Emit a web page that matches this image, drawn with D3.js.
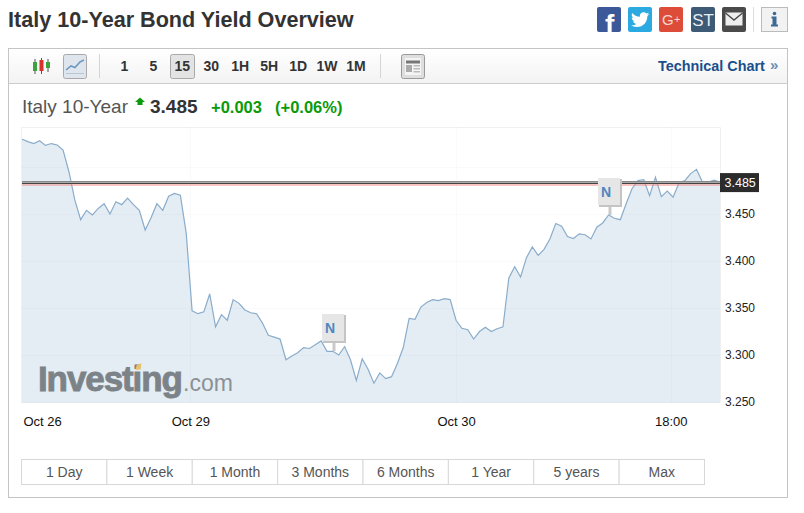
<!DOCTYPE html>
<meta charset="utf-8">
<title>Italy 10-Year Bond Yield Overview</title>
<style>
    body { margin: 0; background: #fff; }
    svg { display: block; }
    text { font-family: "Liberation Sans", Arial, sans-serif; }
</style>
<body>
<script src="https://d3js.org/d3.v7.min.js"></script>
<div id="chart"></div>
<script>
    // yield, one value per bar
    var yields = [
        3.5305, 3.528, 3.526, 3.529, 3.524, 3.526, 3.5245, 3.519, 3.496, 3.466,
        3.445, 3.455, 3.450, 3.457, 3.462, 3.451, 3.464, 3.461, 3.468, 3.461,
        3.455, 3.434, 3.447, 3.462, 3.455, 3.470, 3.473, 3.471, 3.4305, 3.348,
        3.345, 3.347, 3.366, 3.331, 3.344, 3.338, 3.360, 3.356, 3.349, 3.346,
        3.345, 3.335, 3.322, 3.320, 3.318, 3.296, 3.300, 3.3035, 3.309, 3.308,
        3.312, 3.316, 3.305, 3.305, 3.301, 3.310, 3.296, 3.274, 3.297, 3.286,
        3.271, 3.282, 3.276, 3.278, 3.292, 3.309, 3.340, 3.339, 3.352, 3.357,
        3.360, 3.359, 3.361, 3.360, 3.338, 3.3295, 3.328, 3.318, 3.326, 3.3305,
        3.326, 3.329, 3.331, 3.383, 3.395, 3.384, 3.4046, 3.416, 3.407, 3.4135,
        3.4245, 3.441, 3.438, 3.427, 3.425, 3.430, 3.429, 3.4245, 3.437, 3.4415,
        3.450, 3.4465, 3.445, 3.462, 3.478, 3.4865, 3.4875, 3.4705, 3.490, 3.4695,
        3.4755, 3.469, 3.484, 3.4865, 3.494, 3.4986, 3.485, 3.485, 3.487, 3.485
    ];
    var yTicks = [3.25, 3.3, 3.35, 3.4, 3.45];
    var gridTicks = [3.25, 3.3, 3.35, 3.4, 3.45, 3.5];
    var xTickBars = [0, 28.7, 74, 110.6];
    var xTickLabels = ["Oct 26", "Oct 29", "Oct 30", "18:00"];
    var newsBars = [53, 100];
    var lastPrice = 3.485;

    var intervals = ["1", "5", "15", "30", "1H", "5H", "1D", "1W", "1M"];
    var ranges = ["1 Day", "1 Week", "1 Month", "3 Months", "6 Months", "1 Year", "5 years", "Max"];

    var width = 804, height = 513;
    var svg = d3.select("#chart").append("svg")
        .attr("width", width)
        .attr("height", height);

    var defs = svg.append("defs");
    var grad = defs.append("linearGradient").attr("id", "bar").attr("x2", 0).attr("y2", 1);
    grad.append("stop").attr("offset", 0).attr("stop-color", "#ffffff");
    grad.append("stop").attr("offset", 1).attr("stop-color", "#f3f3f3");
    var blur = defs.append("filter").attr("id", "soft").attr("x", "-10%").attr("y", "-10%").attr("width", "120%").attr("height", "120%");
    blur.append("feGaussianBlur").attr("stdDeviation", 0.35);

    function label(g, x, y, str, size, color, weight, anchor) {
        return g.append("text")
            .attr("x", x).attr("y", y)
            .attr("font-size", size + "px")
            .attr("fill", color)
            .attr("font-weight", weight || "normal")
            .attr("text-anchor", anchor || "start")
            .text(str);
    }

    function box(g, x, y, w, h, fill, stroke) {
        return g.append("rect")
            .attr("x", x).attr("y", y)
            .attr("width", w).attr("height", h)
            .attr("fill", fill)
            .attr("stroke", stroke || "none");
    }

    // title
    label(svg, 8, 26.5, "Italy 10-Year Bond Yield Overview", 21.6, "#333", "bold");

    // share buttons
    var share = svg.append("g");
    box(share, 597, 7, 24, 25, "#3b5998").attr("rx", 2);
    label(share, 605, 34, "f", 28, "#fff", "bold").attr("clip-path", "inset(0 0 2px 0)");
    box(share, 628, 7, 24, 25, "#2ba9e1").attr("rx", 2);
    share.append("path")
        .attr("transform", "translate(631,10.5) scale(0.76)")
        .attr("fill", "#fff")
        .attr("d", "M23.954 4.569c-.885.389-1.83.654-2.825.775 1.014-.611 1.794-1.574 2.163-2.723-.951.555-2.005.959-3.127 1.184-.896-.959-2.173-1.559-3.591-1.559-2.717 0-4.92 2.203-4.92 4.917 0 .39.045.765.127 1.124C7.691 8.094 4.066 6.13 1.64 3.161c-.427.722-.666 1.561-.666 2.475 0 1.71.87 3.213 2.188 4.096-.807-.026-1.566-.248-2.228-.616v.061c0 2.385 1.693 4.374 3.946 4.827-.413.111-.849.171-1.296.171-.314 0-.615-.03-.916-.086.631 1.953 2.445 3.377 4.604 3.417-1.68 1.319-3.809 2.105-6.102 2.105-.39 0-.779-.023-1.17-.067 2.189 1.394 4.768 2.209 7.557 2.209 9.054 0 13.999-7.496 13.999-13.986 0-.209 0-.42-.015-.63.961-.689 1.8-1.56 2.46-2.548l-.047-.02z");
    box(share, 659, 7, 24, 25, "#dd4b39").attr("rx", 2);
    label(share, 662, 25, "G", 15, "#f4d6d0");
    label(share, 674, 23, "+", 11, "#f4d6d0");
    box(share, 691, 7, 24, 25, "#3d5a76").attr("rx", 2);
    label(share, 703, 26, "ST", 17, "#e8edf2", "normal", "middle");
    box(share, 722, 7, 24, 25, "#4a4a4a").attr("rx", 2);
    box(share, 725.5, 12.5, 17, 13, "#eee");
    share.append("path")
        .attr("d", "M725.5 13 L734 20 L742.5 13")
        .attr("fill", "none").attr("stroke", "#4a4a4a").attr("stroke-width", 1.4);
    share.append("line")
        .attr("x1", 753.5).attr("x2", 753.5).attr("y1", 7).attr("y2", 32)
        .attr("stroke", "#ddd");
    box(share, 761.5, 7.5, 26, 24, "#f2f2f2", "#bbb");
    share.append("circle").attr("cx", 774.5).attr("cy", 13.5).attr("r", 1.8).attr("fill", "#3d6a92");
    share.append("path")
        .attr("d", "M771.5 16.5h5v8h1.5v2h-7v-2h1.5v-6h-1z")
        .attr("fill", "#3d6a92");

    // frame and toolbar
    box(svg, 8.5, 48.5, 779, 449, "#fff", "#c4c4c4");
    box(svg, 9, 49, 778, 34, "url(#bar)");
    svg.append("line")
        .attr("x1", 9).attr("x2", 787).attr("y1", 83.5).attr("y2", 83.5)
        .attr("stroke", "#ccc");

    var tools = svg.append("g");
    // candle icon
    [[35, 59, 74, 62, 71, "#3da33d"], [41.5, 58, 74, 60, 71, "#d9312b"], [48, 59, 72, 62, 68, "#3da33d"]].forEach(function(c) {
        tools.append("line").attr("x1", c[0]).attr("x2", c[0]).attr("y1", c[1]).attr("y2", c[2]).attr("stroke", "#555");
        box(tools, c[0] - 2, c[3], 4, c[4] - c[3], c[5]);
    });
    // line icon
    box(tools, 63.5, 54.5, 23, 24, "#dfe5ec", "#a9a9a9").attr("rx", 2);
    tools.append("path")
        .attr("d", "M66 70 L71 66 L75 67.5 L80 62 L84 60")
        .attr("fill", "none").attr("stroke", "#6f98c2").attr("stroke-width", 1.6);
    tools.append("line").attr("x1", 66).attr("x2", 84).attr("y1", 73.5).attr("y2", 73.5).attr("stroke", "#b8c6d4");

    [99.5, 380.5].forEach(function(x) {
        tools.append("line").attr("x1", x).attr("x2", x).attr("y1", 54).attr("y2", 78).attr("stroke", "#d5d5d5");
    });

    var intervalX = d3.scalePoint().domain(intervals).range([124.5, 356]);
    box(tools, 170.5, 54.5, 24, 24, "#e3e3e3", "#a9a9a9").attr("rx", 2);
    intervals.forEach(function(d) {
        label(tools, intervalX(d), 71, d, 14, "#333", "bold", "middle");
    });

    // layout icon
    box(tools, 401.5, 54.5, 23, 24, "#dedede", "#9a9a9a").attr("rx", 2);
    box(tools, 405, 58, 16, 17, "#f4f4f4", "none");
    box(tools, 406, 60.5, 14, 3, "#777");
    box(tools, 406, 65, 6, 7, "#aaa");
    box(tools, 413.5, 65, 6.5, 1.5, "#bbb");
    box(tools, 413.5, 68, 6.5, 1.5, "#bbb");
    box(tools, 413.5, 71, 6.5, 1.5, "#bbb");

    label(tools, 658, 71, "Technical Chart", 14.4, "#1a4f8b", "bold");
    label(tools, 770, 70, "»", 15, "#6d8db0", "bold");

    // quote line
    var quote = svg.append("g");
    label(quote, 22, 113, "Italy 10-Year", 19, "#555");
    quote.append("path")
        .attr("d", "M140 97.5 L145 102 L142.5 102 L142.5 105 L137.5 105 L137.5 102 L135 102 Z")
        .attr("fill", "#0a9a0a");
    label(quote, 150, 113, "3.485", 19, "#333", "bold");
    label(quote, 211, 113, "+0.003", 16.5, "#0a9a0a", "bold");
    label(quote, 275, 113, "(+0.06%)", 16.5, "#0a9a0a", "bold");

    // scales
    var plotTop = 127, plotBottom = 403, plotLeft = 21.5, plotRight = 720;

    var x = d3.scaleLinear()
        .domain([0, yields.length - 1])
        .range([22, plotRight]);

    var y = d3.scaleLinear()
        .domain([3.25, 3.5436])
        .range([plotBottom, plotTop]);

    // plot frame
    var plot = svg.append("g");
    plot.append("path")
        .attr("d", "M" + plotLeft + " " + plotBottom + "V" + (plotTop + 0.5) + "H" + (plotRight + 0.5) + "V" + plotBottom)
        .attr("fill", "none").attr("stroke", "#f0f0f0");

    // area
    var area = d3.area()
        .x(function(d, i) { return x(i); })
        .y0(plotBottom)
        .y1(function(d) { return y(d); });

    var line = d3.line()
        .x(function(d, i) { return x(i); })
        .y(function(d) { return y(d); });

    plot.append("path").datum(yields)
        .attr("d", area)
        .attr("fill", "#e4edf4");

    // faint grid on top of the fill
    plot.selectAll(".hgrid").data(gridTicks).enter().append("line")
        .attr("class", "hgrid")
        .attr("x1", plotLeft).attr("x2", plotRight)
        .attr("y1", function(d) { return Math.round(y(d)) - 0.5; })
        .attr("y2", function(d) { return Math.round(y(d)) - 0.5; })
        .attr("stroke", "#8a9aa8").attr("stroke-opacity", 0.05);

    plot.selectAll(".vgrid").data(xTickBars.slice(1)).enter().append("line")
        .attr("class", "vgrid")
        .attr("x1", function(d) { return Math.round(x(d)) + 0.5; })
        .attr("x2", function(d) { return Math.round(x(d)) + 0.5; })
        .attr("y1", plotTop).attr("y2", plotBottom)
        .attr("stroke", "#8a9aa8").attr("stroke-opacity", 0.05);

    // watermark
    var mark = svg.append("g");
    label(mark, 38, 391, "Investing", 35, "#7c8388", "bold")
        .attr("letter-spacing", -1.1)
        .attr("stroke", "#7c8388").attr("stroke-width", 0.9);
    label(mark, 183, 391, ".com", 23, "#8b9196");
    mark.append("path")
        .attr("d", "M135.5 370 L136.5 365.5 L141.5 363 L140.5 369.5 Z")
        .attr("fill", "#e8c36a");

    plot.append("path").datum(yields)
        .attr("d", line)
        .attr("fill", "none")
        .attr("stroke", "#8aaccb")
        .attr("stroke-width", 1.2);

    // last price lines
    var py = Math.round(y(lastPrice));
    [[py - 0.5, "#888888"], [py + 0.5, "#a8a8a8"], [py + 1.5, "#444444"], [py + 3, "#f08a84"]].forEach(function(l) {
        svg.append("line")
            .attr("x1", 22).attr("x2", plotRight)
            .attr("y1", l[0]).attr("y2", l[0])
            .attr("stroke", l[1]);
    });

    // news flags
    var flags = svg.selectAll(".flag").data(newsBars).enter().append("g")
        .attr("class", "flag")
        .attr("transform", function(d) { return "translate(" + Math.round(x(d)) + "," + Math.round(y(yields[d])) + ")"; });
    flags.append("rect")
        .attr("x", -0.5).attr("y", -12).attr("width", 3).attr("height", 12).attr("fill", "#c9c9c9");
    flags.append("rect")
        .attr("x", -10).attr("y", -36).attr("width", 23).attr("height", 28)
        .attr("fill", "#c4c4c4").attr("filter", "url(#soft)");
    flags.append("rect")
        .attr("x", -11).attr("y", -37).attr("width", 22).attr("height", 27)
        .attr("fill", "#e6e6e6");
    flags.append("text")
        .attr("x", -3).attr("y", -18)
        .attr("text-anchor", "middle")
        .attr("font-size", "14px").attr("font-weight", "bold")
        .attr("fill", "#4f86c0")
        .text("N");

    // axes
    var yAxis = d3.axisRight(y)
        .tickValues(yTicks)
        .tickSize(0)
        .tickPadding(5)
        .tickFormat(d3.format(".3f"));

    var gy = svg.append("g")
        .attr("transform", "translate(" + plotRight + ",-1)")
        .call(yAxis);
    gy.select(".domain").remove();
    gy.selectAll("text")
        .attr("font-size", "12px")
        .attr("font-family", "Liberation Sans")
        .attr("fill", "#222");

    var xAxis = d3.axisBottom(x)
        .tickValues(xTickBars)
        .tickSize(0)
        .tickPadding(14)
        .tickFormat(function(d, i) { return xTickLabels[i]; });

    var gx = svg.append("g")
        .attr("transform", "translate(0," + plotBottom + ")")
        .call(xAxis);
    gx.select(".domain").remove();
    gx.selectAll("text")
        .attr("font-size", "13px")
        .attr("font-family", "Liberation Sans")
        .attr("fill", "#111");
    gx.selectAll("text").filter(function(d, i) { return i == 0; })
        .attr("text-anchor", "start")
        .attr("dx", 1);

    // price tag
    var tag = svg.append("g");
    box(tag, plotRight, y(lastPrice) - 9, 39, 19, "#2b2b2b");
    label(tag, plotRight + 4.5, y(lastPrice) + 4.5, d3.format(".3f")(lastPrice), 12.5, "#fff");

    // range buttons
    var rangeX = d3.scaleBand().domain(ranges).range([21.5, 704.5]);
    var rb = svg.selectAll(".range").data(ranges).enter().append("g").attr("class", "range");
    rb.append("rect")
        .attr("x", function(d) { return rangeX(d); })
        .attr("y", 459.5)
        .attr("width", rangeX.bandwidth())
        .attr("height", 25)
        .attr("fill", "#fff")
        .attr("stroke", "#d8d8d8");
    rb.append("text")
        .attr("x", function(d) { return rangeX(d) + rangeX.bandwidth() / 2; })
        .attr("y", 477)
        .attr("text-anchor", "middle")
        .attr("font-size", "14px")
        .attr("fill", "#555")
        .text(function(d) { return d; });
</script>
</body>
